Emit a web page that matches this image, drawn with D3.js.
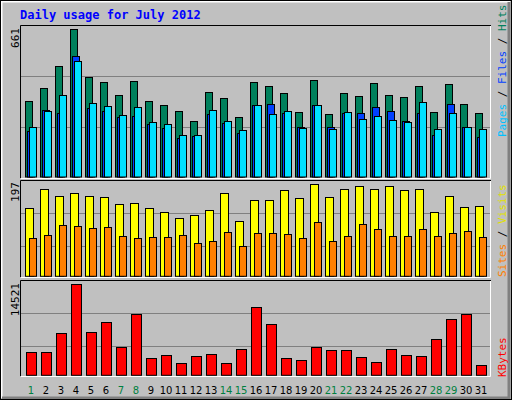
<!DOCTYPE html>
<html><head><meta charset="utf-8">
<script src="https://cdn.jsdelivr.net/npm/d3@7"></script>
<style>body{margin:0;background:#fff}svg{display:block}</style>
</head><body>
<script>
const days = d3.range(1,32);
const weekend = [1,7,8,14,15,21,22,28,29];
const hits  = [338,396,494,661,445,423,365,427,338,320,293,249,378,351,267,423,405,374,289,432,280,374,360,418,365,356,405,289,414,325,284];
const files = [204,298,284,539,307,293,267,271,235,217,173,182,280,240,195,320,325,284,222,320,222,284,284,311,293,249,284,186,325,222,177];
const pages = [222,293,365,517,329,316,276,311,244,235,186,186,298,249,209,320,280,293,217,320,213,289,258,271,253,244,334,213,284,222,213];
const visits= [146,188,173,178,173,169,154,156,146,137,124,131,141,178,118,163,163,184,167,197,169,188,193,188,193,184,186,137,171,148,150];
const sites = [81,88,109,107,103,105,86,81,84,84,88,71,75,94,64,92,92,90,81,116,75,86,111,101,86,86,101,86,92,98,84];
const kbytes= [3670,3670,6702,14521,6862,8457,4468,9734,2713,3191,1915,3032,3351,1915,4149,10851,8138,2713,2394,4468,3989,3989,2872,2074,4149,3191,3032,5745,8936,9734,1596];
const maxLabels = ["661","197","14521"];

const svg = d3.select("body").append("svg").attr("width",512).attr("height",400);
svg.append("rect").attr("width",512).attr("height",400).attr("fill","#c0c0c0");
svg.append("path").attr("d","M1.5,398 V1.5 H510").attr("stroke","#fff").attr("stroke-width",2).attr("fill","none");
svg.append("path").attr("d","M2,398 H509 V2").attr("stroke","#808080").attr("stroke-width",3).attr("fill","none");
svg.append("rect").attr("x",0.5).attr("y",0.5).attr("width",511).attr("height",399).attr("fill","none").attr("stroke","#000");

svg.append("text").attr("x",20).attr("y",19).attr("fill","#0000ff")
  .attr("font-family","DejaVu Sans Mono").attr("font-weight","bold").attr("font-size",12).text("Daily usage for July 2012");

const x = d3.scaleLinear().domain([1,31]).range([25,475]);

function panel(top,bottom,grids){
  svg.append("path").attr("d",`M20.5,${bottom+1} V${top+0.5} H491`).attr("stroke","#000").attr("fill","none");
  svg.append("path").attr("d",`M21,${bottom+1.5} H490.5 V${top+1}`).attr("stroke","#fff").attr("fill","none");
  grids.forEach(g=>svg.append("line").attr("x1",21).attr("x2",490).attr("y1",g).attr("y2",g).attr("stroke","#808080"));
}
panel(25,177,[76.5,127.5]);
panel(180,276,[213.5,246.5]);
panel(280,375,[313.5,346.5]);

const y1 = d3.scaleLinear().domain([0,661]).range([177,29]);
const y2 = d3.scaleLinear().domain([0,197]).range([276.3,184.3]);
const y3 = d3.scaleLinear().domain([0,14521]).range([375.3,284.3]);

function bars(data,y,off,w,color){
  svg.append("g").selectAll("rect").data(data).join("rect")
    .attr("x",(d,i)=>Math.round(x(days[i]))+off+0.5).attr("width",w)
    .attr("y",d=>Math.round(y(d))+0.5).attr("height",d=>y(0)-Math.round(y(d))-0.5)
    .attr("fill",color).attr("stroke","#000");
}
bars(hits,y1,0,7,"#00805c");
bars(files,y1,2,7,"#0040ff");
bars(pages,y1,4,7,"#00e0ff");
bars(visits,y2,0,8,"#ffff00");
bars(sites,y2,4,7,"#ff8000");
bars(kbytes,y3,1,10,"#ff0000");

svg.append("g").selectAll("text").data(days).join("text")
  .attr("x",d=>x(d)+6).attr("y",394).attr("text-anchor","middle")
  .attr("font-family","DejaVu Sans").attr("font-size",10)
  .attr("fill",d=>weekend.includes(d)?"#008040":"#000").text(d=>d);

function vtext(xp,yp,anchor,parts){
  const t = svg.append("text").attr("transform",`translate(${xp},${yp}) rotate(-90)`)
    .attr("text-anchor",anchor).attr("font-family","DejaVu Sans Mono").attr("font-size",11);
  parts.forEach(p=>t.append("tspan").attr("fill",p[1]).text(p[0]));
}
vtext(19,28,"end",[[maxLabels[0],"#000"]]);
vtext(19,182,"end",[[maxLabels[1],"#000"]]);
vtext(19,283,"end",[[maxLabels[2],"#000"]]);
vtext(506,137,"start",[["Pages","#00c0ff"],[" / ","#000"],["Files","#0040ff"],[" / ","#000"],["Hits","#00805c"]]);
vtext(506,277,"start",[["Sites","#ff8000"],[" / ","#000"],["Visits","#e0e000"]]);
vtext(506,377,"start",[["KBytes","#ff0000"]]);
</script>
</body></html>
